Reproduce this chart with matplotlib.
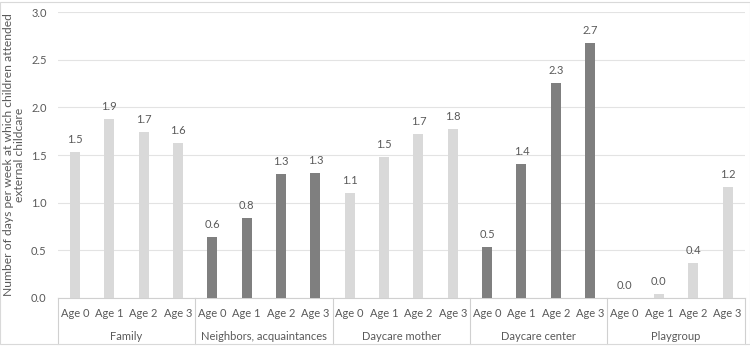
import matplotlib.pyplot as plt
import matplotlib.transforms as mtransforms
import numpy as np

plt.rcParams['font.family'] = ['Lato', 'DejaVu Sans']

groups = ["Family", "Neighbors, acquaintances", "Daycare mother", "Daycare center", "Playgroup"]
ages = ["Age 0", "Age 1", "Age 2", "Age 3"]
family = [1.53, 1.88, 1.74, 1.63]
neighbors = [0.64, 0.84, 1.30, 1.31]
daycare_mother = [1.10, 1.48, 1.72, 1.77]
daycare_center = [0.53, 1.41, 2.26, 2.68]
playgroup = [0.0, 0.04, 0.37, 1.16]
group_dark = [False, True, False, True, False]

light = "#D9D9D9"
dark = "#7F7F7F"
text_col = "#595959"

fig = plt.figure(figsize=(7.5, 3.46), dpi=100)
ax = fig.add_axes([0.077, 0.139, 0.916, 0.826])

series = [family, neighbors, daycare_mother, daycare_center, playgroup]
x = 0
xticks = []
for g, vals in enumerate(series):
    col = dark if group_dark[g] else light
    pos = np.arange(len(vals)) + x
    bars = ax.bar(pos, vals, 0.29, color=col, zorder=3)
    for b, v in zip(bars, vals):
        ax.annotate(f"{v:.1f}", (b.get_x() + b.get_width() / 2, v), xytext=(0, 5),
                    textcoords="offset points", ha="center", va="bottom",
                    fontsize=8, color=text_col)
    xticks.extend(pos)
    x += len(vals)

ax.set_xlim(-0.5, x - 0.5)
ax.set_ylim(0, 3.0)
ax.set_yticks(np.arange(0, 3.01, 0.5))
ax.set_yticklabels([f"{t:.1f}" for t in np.arange(0, 3.01, 0.5)])
ax.set_xticks(xticks)
ax.set_xticklabels(ages * len(groups))
ax.tick_params(axis="both", length=0, labelsize=8, labelcolor=text_col)
ax.tick_params(axis="x", pad=7)
ax.tick_params(axis="y", pad=8)
ax.grid(axis="y", color="#E3E3E3", linewidth=0.8, zorder=0)
for s in ["top", "right", "left"]:
    ax.spines[s].set_visible(False)
ax.spines["bottom"].set_color("#D0D0D0")

ax.set_ylabel("Number of days per week at which children attended\nexternal childcare",
              fontsize=8.7, color=text_col, labelpad=4, linespacing=1.1)

trans = mtransforms.blended_transform_factory(ax.transData, ax.transAxes)
n = len(ages)
for i in range(len(groups) + 1):
    xb = i * n - 0.5
    ax.plot([xb, xb], [0, -0.16], transform=trans, color="#D0D0D0",
            linewidth=0.8, clip_on=False)
for i, g in enumerate(groups):
    ax.text(i * n + (n - 1) / 2, -0.135, g, transform=trans, ha="center",
            va="center", fontsize=8, color=text_col)

fig.patches.append(plt.Rectangle((0, 0.005), 1, 0.99, transform=fig.transFigure,
                                 fill=False, edgecolor="#D9D9D9", linewidth=0.8))

fig.savefig("out.png", dpi=100)
